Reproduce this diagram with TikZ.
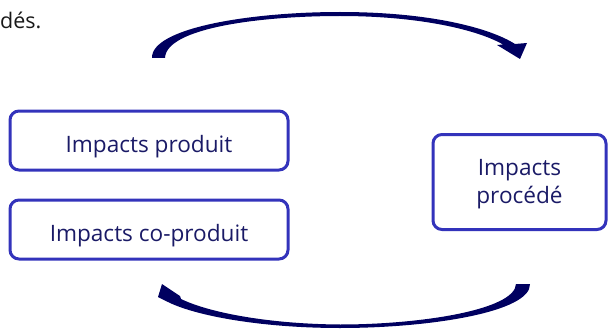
\documentclass[tikz,border=0pt]{standalone}
\usepackage{fontspec}
\setmainfont{Open Sans}
\definecolor{boxblue}{RGB}{51,51,187}
\definecolor{textnavy}{RGB}{26,26,102}
\definecolor{arrownavy}{RGB}{0,0,96}
\begin{document}
\begin{tikzpicture} [
                x=1pt, y=-1pt,
                impact box/.style={draw=boxblue,line width=3pt,rounded corners=9pt,
                    text=textnavy,font=\fontsize{22.6}{28}\selectfont,align=center,inner sep=0pt},
                one line/.style={text height=23pt,text depth=0pt},
                two lines/.style={text height=45pt,text depth=3pt},
                cycle arrow/.style={fill=arrownavy},
            ]
            \useasboundingbox (0,0) rectangle (608,329);
            \node[anchor=base west,inner sep=0pt,font=\fontsize{21.5}{28}\selectfont,text=black!90] (titre) at (0,29) {dés.};
            \foreach \pos/\name/\w/\h/\lignes/\texte in {
            {(149,140.5)/produit/278/59/one line/Impacts produit},
            {(149,229.5)/coproduit/278/59/one line/Impacts co-produit},
            {(519.5,182)/procede/173/95/two lines/Impacts\\procédé}}
                \node[impact box,\lignes,minimum width=\w pt,minimum height=\h pt] (\name) at \pos {\texte};
            % fleche du haut
            \fill[cycle arrow] (152,58) .. controls (151,28) and (250,12) .. (340,12)
                .. controls (430,12) and (490,28) .. (515,44) -- (527,43) -- (520,59) -- (497,45) -- (503,44.5)
                .. controls (478,30) and (420,16) .. (340,16)
                .. controls (260,16) and (166,28) .. (165,58) -- cycle;
            % fleche du bas
            \fill[cycle arrow] (530,284) .. controls (531,312) and (430,328) .. (340,328)
                .. controls (262,328) and (196,316) .. (168,302) -- (158,297) -- (162,284) -- (180,296) -- (181,299)
                .. controls (210,313) and (270,324) .. (340,324.5)
                .. controls (420,324.5) and (515,310) .. (516,284) -- cycle;
        \end{tikzpicture}
\end{document}
